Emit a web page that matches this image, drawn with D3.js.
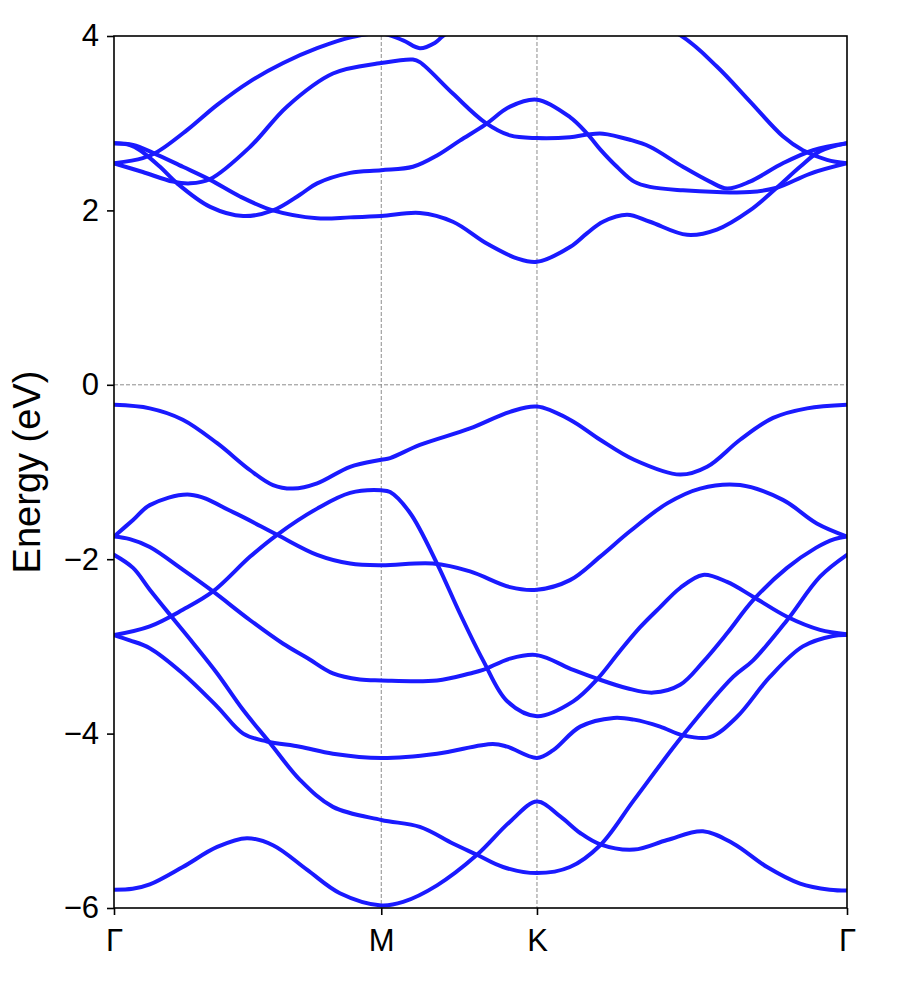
<!DOCTYPE html>
<html>
<head>
<meta charset="utf-8">
<script src="https://cdn.jsdelivr.net/npm/d3@7"></script>
<style>
  body { margin: 0; background: #fff; }
  svg { font-family: "Liberation Sans", Arial, sans-serif; }
</style>
</head>
<body>
<div id="chart"></div>
<script>
// High-symmetry points along the path (units of 2π/a)
const kTicks = [0, 0.575, 0.910, 1.577];
const kLabels = ["Γ", "M", "K", "Γ"];
const energyTicks = [-6, -4, -2, 0, 2, 4];
const energyRange = [-6, 4];

// Conduction bands, [k, E (eV)]
const cb1 = [[0, 2.77], [0.034, 2.75], [0.056, 2.69], [0.099, 2.50], [0.136, 2.31], [0.207, 2.04], [0.278, 1.935],
  [0.342, 2.0], [0.400, 2.18], [0.437, 2.31], [0.508, 2.43], [0.575, 2.46], [0.643, 2.50], [0.695, 2.63],
  [0.744, 2.80], [0.798, 2.98], [0.852, 3.19], [0.910, 3.27], [0.981, 3.07], [1.018, 2.88], [1.046, 2.70],
  [1.082, 2.50], [1.119, 2.33], [1.153, 2.27], [1.224, 2.23], [1.297, 2.21], [1.368, 2.21], [1.426, 2.26],
  [1.497, 2.42], [1.577, 2.54]];
const cb2 = [[0, 2.77], [0.041, 2.75], [0.084, 2.66], [0.148, 2.50], [0.207, 2.35], [0.271, 2.16], [0.342, 2.0],
  [0.437, 1.91], [0.508, 1.92], [0.575, 1.935], [0.658, 1.97], [0.729, 1.87], [0.802, 1.62], [0.867, 1.45],
  [0.910, 1.41], [0.981, 1.58], [1.018, 1.74], [1.052, 1.87], [1.104, 1.95], [1.153, 1.87], [1.233, 1.72],
  [1.297, 1.78], [1.368, 2.0], [1.426, 2.26], [1.476, 2.50], [1.519, 2.68], [1.577, 2.77]];
const cb3 = [[0, 2.54], [0.062, 2.44], [0.127, 2.33], [0.164, 2.31], [0.207, 2.36], [0.293, 2.73], [0.372, 3.19],
  [0.471, 3.57], [0.575, 3.69], [0.643, 3.73], [0.658, 3.70], [0.729, 3.34], [0.798, 3.01], [0.852, 2.86],
  [0.910, 2.83], [0.981, 2.84], [1.018, 2.87], [1.052, 2.88], [1.110, 2.81], [1.153, 2.73], [1.224, 2.50],
  [1.282, 2.33], [1.319, 2.25], [1.368, 2.33], [1.439, 2.54], [1.504, 2.69], [1.577, 2.77]];
const cb4 = [[0, 2.54], [0.062, 2.60], [0.093, 2.67], [0.157, 2.92], [0.222, 3.21], [0.293, 3.48], [0.364, 3.69],
  [0.437, 3.86], [0.514, 3.99], [0.575, 4.03], [0.622, 3.95], [0.658, 3.86], [0.690, 3.92], [0.708, 4.0],
  [0.810, 4.35], [0.910, 4.5], [1.050, 4.4], [1.218, 4.01], [1.297, 3.65], [1.368, 3.25], [1.439, 2.85],
  [1.482, 2.69], [1.534, 2.58], [1.577, 2.54]];

// Valence bands, [k, E (eV)]
const vb1 = [[0, -0.23], [0.077, -0.27], [0.148, -0.40], [0.222, -0.67], [0.293, -0.98], [0.342, -1.15],
  [0.385, -1.19], [0.437, -1.13], [0.508, -0.94], [0.575, -0.86], [0.594, -0.84], [0.658, -0.69],
  [0.766, -0.50], [0.852, -0.31], [0.910, -0.25], [0.981, -0.40], [1.046, -0.63], [1.119, -0.86],
  [1.218, -1.03], [1.276, -0.94], [1.347, -0.63], [1.418, -0.38], [1.491, -0.27], [1.577, -0.23]];
const vb2 = [[0, -1.74], [0.041, -1.55], [0.077, -1.38], [0.164, -1.26], [0.256, -1.46], [0.351, -1.72],
  [0.437, -1.95], [0.508, -2.05], [0.575, -2.07], [0.686, -2.05], [0.766, -2.14], [0.852, -2.32],
  [0.910, -2.35], [0.981, -2.24], [1.046, -1.97], [1.110, -1.68], [1.190, -1.36], [1.261, -1.19],
  [1.347, -1.15], [1.439, -1.32], [1.512, -1.59], [1.577, -1.74]];
const vb3 = [[0, -2.87], [0.077, -2.77], [0.148, -2.58], [0.213, -2.37], [0.293, -1.97], [0.351, -1.72],
  [0.437, -1.42], [0.508, -1.24], [0.575, -1.21], [0.594, -1.23], [0.637, -1.47], [0.695, -2.05],
  [0.744, -2.62], [0.794, -3.16], [0.846, -3.63], [0.910, -3.80], [0.988, -3.63], [1.039, -3.38],
  [1.089, -3.05], [1.132, -2.78], [1.175, -2.55], [1.218, -2.33], [1.267, -2.18], [1.319, -2.26],
  [1.375, -2.43], [1.448, -2.66], [1.519, -2.81], [1.577, -2.86]];
const vb4 = [[0, -1.74], [0.034, -1.77], [0.077, -1.86], [0.148, -2.12], [0.213, -2.37], [0.293, -2.70],
  [0.364, -2.97], [0.415, -3.13], [0.471, -3.31], [0.529, -3.38], [0.575, -3.39], [0.695, -3.39],
  [0.766, -3.31], [0.794, -3.27], [0.852, -3.14], [0.910, -3.10], [0.988, -3.27], [1.039, -3.37],
  [1.104, -3.48], [1.160, -3.53], [1.218, -3.44], [1.267, -3.18], [1.319, -2.85], [1.375, -2.47],
  [1.448, -2.10], [1.510, -1.87], [1.550, -1.77], [1.577, -1.74]];
const vb5 = [[0, -1.95], [0.041, -2.10], [0.077, -2.35], [0.127, -2.68], [0.170, -2.96], [0.222, -3.31],
  [0.278, -3.73], [0.336, -4.11], [0.400, -4.53], [0.471, -4.84], [0.575, -4.99], [0.658, -5.07],
  [0.729, -5.26], [0.781, -5.39], [0.837, -5.53], [0.910, -5.60], [0.981, -5.53], [1.046, -5.28],
  [1.119, -4.76], [1.224, -4.02], [1.332, -3.35], [1.375, -3.16], [1.448, -2.70], [1.519, -2.20],
  [1.577, -1.95]];
const vb6 = [[0, -2.87], [0.034, -2.93], [0.077, -3.02], [0.148, -3.31], [0.222, -3.69], [0.278, -4.0],
  [0.329, -4.09], [0.400, -4.15], [0.471, -4.23], [0.575, -4.28], [0.695, -4.23], [0.815, -4.12],
  [0.846, -4.15], [0.910, -4.28], [0.945, -4.19], [1.003, -3.92], [1.075, -3.82], [1.119, -3.84],
  [1.175, -3.92], [1.224, -4.02], [1.282, -4.04], [1.340, -3.81], [1.411, -3.35], [1.482, -3.0],
  [1.547, -2.88], [1.577, -2.87]];
const vb7 = [[0, -5.79], [0.040, -5.78], [0.077, -5.73], [0.148, -5.53], [0.222, -5.30], [0.286, -5.20],
  [0.342, -5.28], [0.415, -5.56], [0.486, -5.83], [0.575, -5.97], [0.622, -5.93], [0.695, -5.74],
  [0.781, -5.39], [0.852, -5.01], [0.910, -4.78], [0.960, -4.95], [1.003, -5.14], [1.046, -5.27],
  [1.119, -5.33], [1.190, -5.22], [1.267, -5.12], [1.332, -5.26], [1.405, -5.53], [1.476, -5.72],
  [1.540, -5.79], [1.577, -5.80]];

const bands = [cb1, cb2, cb3, cb4, vb1, vb2, vb3, vb4, vb5, vb6, vb7];

const width = 900, height = 986,
      margin = { top: 36, right: 53, bottom: 78, left: 114 };

const svg = d3.select("#chart")
  .append("svg")
  .attr("width", width)
  .attr("height", height);

const x = d3.scaleLinear()
  .domain([kTicks[0], kTicks[kTicks.length - 1]])
  .range([margin.left, width - margin.right]);

const y = d3.scaleLinear()
  .domain(energyRange)
  .range([height - margin.bottom, margin.top]);

svg.append("clipPath")
  .attr("id", "plot-clip")
  .append("rect")
    .attr("x", margin.left)
    .attr("y", margin.top)
    .attr("width", width - margin.left - margin.right)
    .attr("height", height - margin.top - margin.bottom);

// Dashed guides at inner high-symmetry points and at the Fermi level
svg.append("g")
  .selectAll("line")
  .data(kTicks.slice(1, -1))
  .join("line")
    .attr("x1", d => x(d))
    .attr("x2", d => x(d))
    .attr("y1", margin.top)
    .attr("y2", height - margin.bottom)
    .attr("stroke", "#8c8c8c")
    .attr("stroke-width", 1)
    .attr("stroke-dasharray", "4,2");

svg.append("line")
  .attr("x1", margin.left)
  .attr("x2", width - margin.right)
  .attr("y1", y(0))
  .attr("y2", y(0))
  .attr("stroke", "#8c8c8c")
  .attr("stroke-width", 1)
  .attr("stroke-dasharray", "4,2");

// Bands
const line = d3.line()
  .x(d => x(d[0]))
  .y(d => y(d[1]))
  .curve(d3.curveCatmullRom.alpha(0.5));

svg.append("g")
  .attr("clip-path", "url(#plot-clip)")
  .selectAll("path")
  .data(bands)
  .join("path")
    .attr("d", line)
    .attr("fill", "none")
    .attr("stroke", "#1a1aff")
    .attr("stroke-width", 4)
    .attr("stroke-linejoin", "round")
    .attr("stroke-linecap", "round");

// Axes
svg.append("g")
  .attr("transform", `translate(${margin.left},0)`)
  .call(d3.axisLeft(y).tickValues(energyTicks).tickSize(7).tickSizeOuter(0).tickPadding(8))
  .call(g => g.select(".domain").remove())
  .call(g => g.selectAll("line").attr("stroke-width", 1.6))
  .call(g => g.selectAll("text").attr("font-size", "31px").attr("font-family", "Liberation Sans, Arial, sans-serif").attr("fill", "#000"));

svg.append("g")
  .attr("transform", `translate(0,${height - margin.bottom})`)
  .call(d3.axisBottom(x).tickValues(kTicks).tickFormat((d, i) => kLabels[i]).tickSize(7).tickSizeOuter(0).tickPadding(14))
  .call(g => g.select(".domain").remove())
  .call(g => g.selectAll("line").attr("stroke-width", 1.6))
  .call(g => g.selectAll("text").attr("font-size", "31px").attr("font-family", "Liberation Sans, Arial, sans-serif").attr("fill", "#000"));

// Frame
svg.append("rect")
  .attr("x", margin.left)
  .attr("y", margin.top)
  .attr("width", width - margin.left - margin.right)
  .attr("height", height - margin.top - margin.bottom)
  .attr("fill", "none")
  .attr("stroke", "#000")
  .attr("stroke-width", 1.6);

svg.append("text")
  .attr("transform", `translate(40,${(margin.top + height - margin.bottom) / 2}) rotate(-90)`)
  .attr("text-anchor", "middle")
  .attr("font-size", "38px")
  .text("Energy (eV)");
</script>
</body>
</html>
